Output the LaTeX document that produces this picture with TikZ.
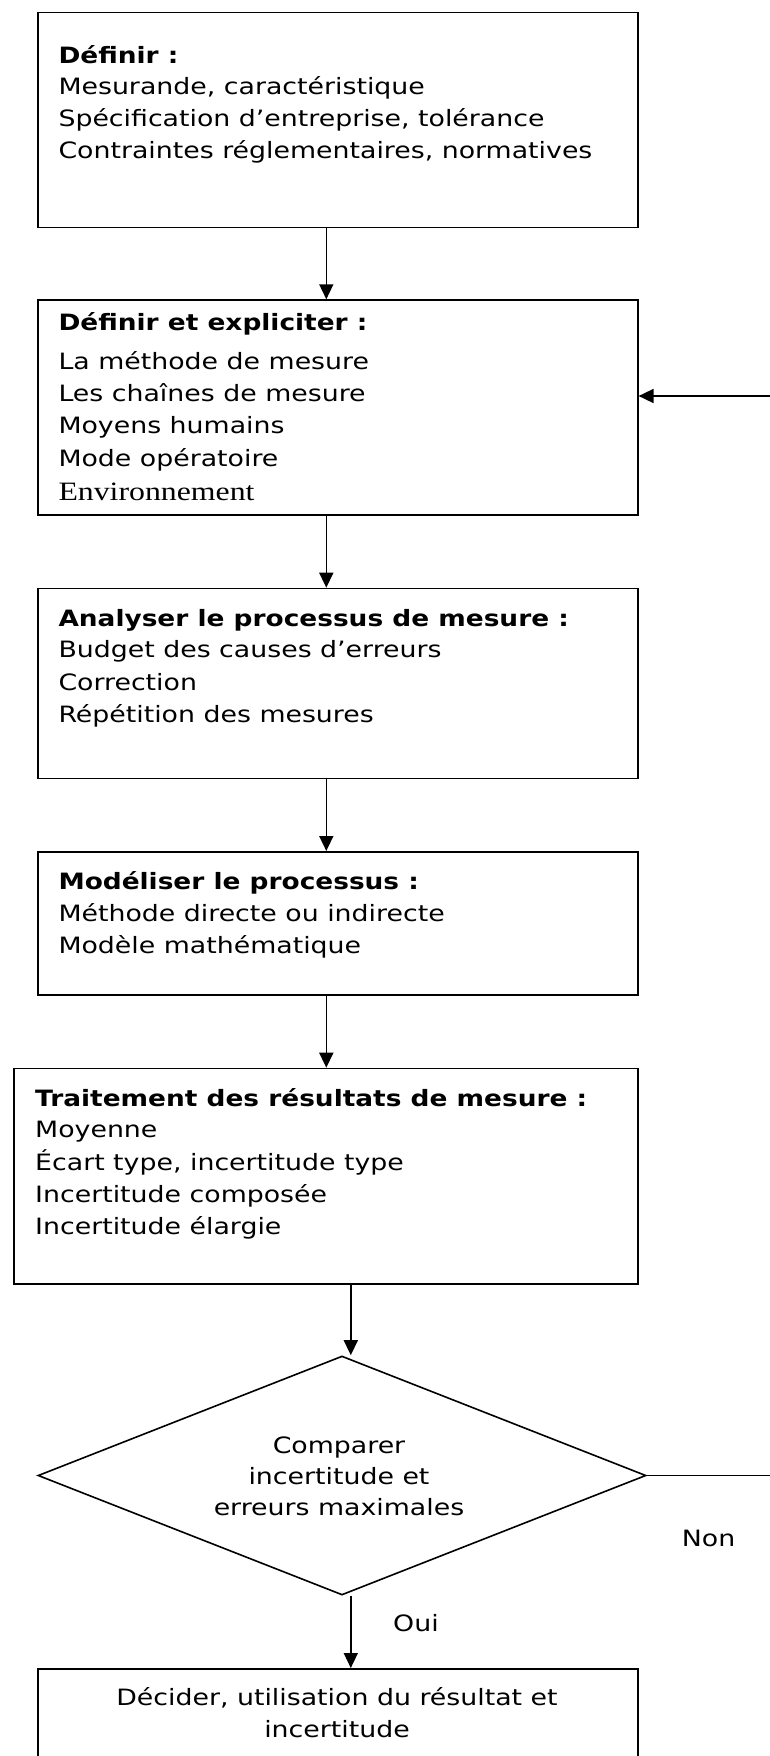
\documentclass[tikz,border=0pt]{standalone}
\usepackage{fontspec}
\setmainfont{DejaVu Sans}[FakeStretch=1.19,BoldFeatures={FakeStretch=1.173}]
\newfontfamily\tnr{Liberation Serif}[FakeStretch=1.2]
\usetikzlibrary{arrows.meta,shapes.geometric}
\begin{document}
\begin{tikzpicture}[x=1pt,y=-1pt,
  box/.style={draw,line width=1.6pt,rectangle,inner sep=0pt,anchor=north west,minimum width=600pt},
  txt/.style={anchor=base west,inner sep=0pt,font=\fontsize{22.5}{27}\selectfont},
  ctxt/.style={anchor=base,inner sep=0pt,font=\fontsize{22.5}{27}\selectfont},
  arr/.style={line width=1.6pt,-{Triangle[length=15pt,width=14pt]}},
  ln/.style={line width=1.6pt}]
\useasboundingbox (0,0) rectangle (770,1756);
\clip (0,0) rectangle (770,1756);

% boxes
\node[box,minimum height=215pt] (b1) at (37,11.7) {};
\node[box,minimum height=214.7pt] (b2) at (37,299.3) {};
\node[box,minimum height=190pt] (b3) at (37,587.7) {};
\node[box,minimum height=143pt] (b4) at (37,851) {};
\node[box,minimum height=215.6pt,minimum width=624pt] (b5) at (13,1067.7) {};
\node[box,minimum height=160pt] (b6) at (37,1668) {};
\node[draw,line width=1.6pt,diamond,minimum width=608pt,minimum height=239pt,inner sep=0pt] (d) at (342,1475.5) {};

% box 1 text
\node[txt] (t11) at (58.3,63.3) {\bfseries Définir :};
\node[txt] (t12) at (58.3,94.8) {Mesurande, caractéristique};
\node[txt] (t13) at (58.3,126.7) {Spécification d’entreprise, tolérance};
\node[txt] (t14) at (58.3,158.5) {Contraintes réglementaires, normatives};

% box 2 text
\node[txt] (t21) at (58.3,330.7) {\bfseries Définir et expliciter :};
\node[txt] (t22) at (58.3,369.3) {La méthode de mesure};
\node[txt] (t23) at (58.3,401.7) {Les chaînes de mesure};
\node[txt] (t24) at (58.3,433.3) {Moyens humains};
\node[txt] (t25) at (58.3,466) {Mode opératoire};
\node[txt,font=\fontsize{26.5}{30}\tnr] (t26) at (58.3,500.7) {Environnement};

% box 3 text
\node[txt] (t31) at (58.3,626.7) {\bfseries Analyser le processus de mesure :};
\node[txt] (t32) at (58.3,657.7) {Budget des causes d’erreurs};
\node[txt] (t33) at (58.3,690) {Correction};
\node[txt] (t34) at (58.3,722.7) {Répétition des mesures};

% box 4 text
\node[txt] (t41) at (58.3,889.3) {\bfseries Modéliser le processus :};
\node[txt] (t42) at (58.3,921.7) {Méthode directe ou indirecte};
\node[txt] (t43) at (58.3,953.3) {Modèle mathématique};

% box 5 text
\node[txt] (t51) at (35,1106.7) {\bfseries Traitement des résultats de mesure :};
\node[txt] (t52) at (35,1137.7) {Moyenne};
\node[txt] (t53) at (35,1170) {Écart type, incertitude type};
\node[txt] (t54) at (35,1202.7) {Incertitude composée};
\node[txt] (t55) at (35,1234.3) {Incertitude élargie};

% diamond text
\node[ctxt] (td1) at (339,1453.3) {Comparer};
\node[ctxt] (td2) at (339,1484.3) {incertitude et};
\node[ctxt] (td3) at (339,1515) {erreurs maximales};

% box 6 text
\node[ctxt] (t61) at (337,1705) {Décider, utilisation du résultat et};
\node[ctxt] (t62) at (337,1737.7) {incertitude};

% labels
\node[txt] (oui) at (393,1631.7) {Oui};
\node[txt] (non) at (681.7,1546) {Non};

% connectors
\draw[arr] ([xshift=-11.5pt]b1.south) -- ([xshift=-11.5pt]b2.north);
\draw[arr] ([xshift=-11.5pt]b2.south) -- ([xshift=-11.5pt]b3.north);
\draw[arr] ([xshift=-11.5pt]b3.south) -- ([xshift=-11.5pt]b4.north);
\draw[arr] ([xshift=-11.5pt]b4.south) -- ([xshift=-11.5pt]b4.south |- b5.north);
\draw[arr] ([xshift=25pt]b5.south) -- ([xshift=25pt]b5.south |- d.north);
\draw[arr] ([xshift=13pt]b6.north |- d.south) -- ([xshift=13pt]b6.north);
\coordinate (e1) at (770,1475.5);
\draw[ln] (d.east) -- (e1);
\coordinate (e2) at (770,396);
\draw[arr] (e2) -- (e2 -| b2.east);
\end{tikzpicture}
\end{document}
